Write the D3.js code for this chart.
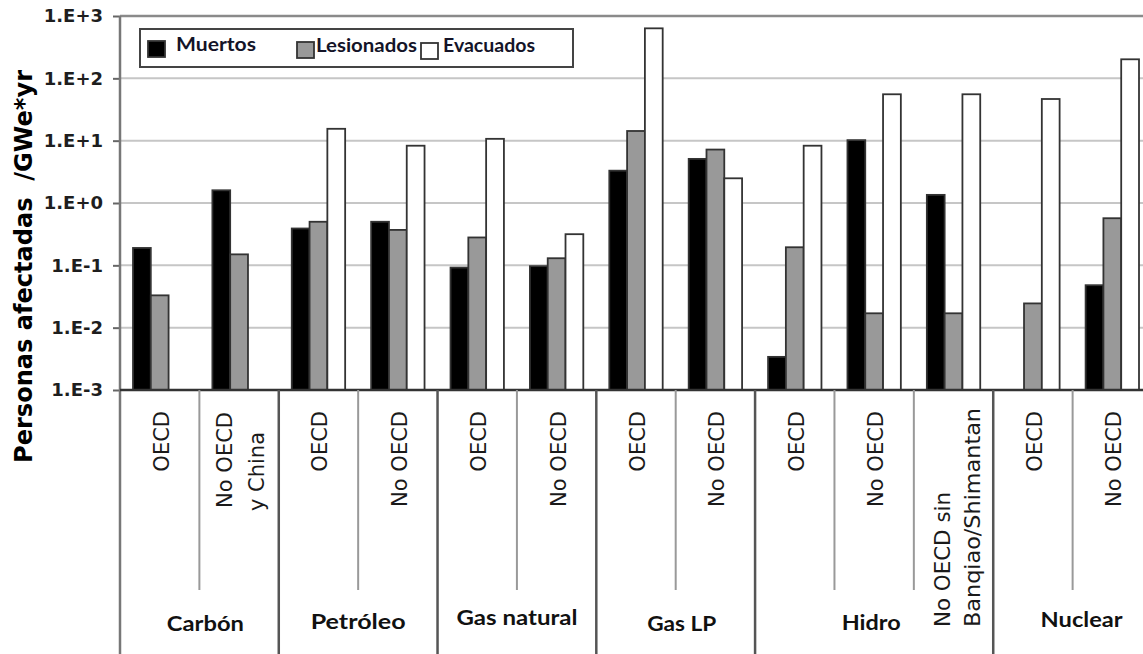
<!DOCTYPE html>
<html>
<head>
<meta charset="utf-8">
<script src="https://cdn.jsdelivr.net/npm/d3@7"></script>
<style>
  html, body { margin: 0; padding: 0; background: #fff; }
  svg { display: block; }
</style>
</head>
<body>
<svg id="chart" width="1143" height="654"></svg>
<script>
// ---------------- DATA ----------------
const subCategories = ["OECD", "No OECD|y China", "OECD", "No OECD", "OECD", "No OECD",
  "OECD", "No OECD", "OECD", "No OECD", "No OECD sin|Banqiao/Shimantan", "OECD", "No OECD"];
const groupNames = ["Carbón", "Petróleo", "Gas natural", "Gas LP", "Hidro", "Nuclear"];
const groupSizes = [2, 2, 2, 2, 3, 2];
const seriesNames = ["Muertos", "Lesionados", "Evacuados"];
const muertos    = [0.19, 1.6, 0.39, 0.50, 0.092, 0.097, 3.3, 5.1, 0.0034, 10.2, 1.35, null, 0.048];
const lesionados = [0.033, 0.15, 0.50, 0.37, 0.28, 0.13, 14.3, 7.2, 0.195, 0.017, 0.017, 0.0245, 0.57];
const evacuados  = [null, null, 15.5, 8.3, 10.7, 0.316, 634, 2.49, 8.3, 55.5, 55.5, 46.6, 202];
const tickValues = [1e-3, 1e-2, 1e-1, 1e0, 1e1, 1e2, 1e3];
const tickLabels = ["1.E-3", "1.E-2", "1.E-1", "1.E+0", "1.E+1", "1.E+2", "1.E+3"];
const yTitle = "Personas afectadas  /GWe*yr";

// ---------------- LAYOUT ----------------
const svg = d3.select("#chart");
const plotL = 120, plotR = 1152, plotT = 16, plotB = 390;
const fills = ["#000000", "#999999", "#ffffff"];
const seriesData = [muertos, lesionados, evacuados];

const x = d3.scaleBand().domain(d3.range(subCategories.length)).range([plotL, plotR]).padding(0);
const bw = x.bandwidth();
const xs = d3.scaleBand().domain(d3.range(3)).range([13, bw - 13]).padding(0);
const y = d3.scaleLog().domain([1e-3, 1e3]).range([plotB, plotT]);

// gridlines
svg.append("g").selectAll("line").data(tickValues.slice(0, -1)).join("line")
  .attr("x1", plotL).attr("x2", plotR)
  .attr("y1", d => y(d)).attr("y2", d => y(d))
  .attr("stroke", "#c6c6c6").attr("stroke-width", 2);
// top border
svg.append("line").attr("x1", plotL).attr("x2", plotR).attr("y1", y(1e3)).attr("y2", y(1e3))
  .attr("stroke", "#8a8a8a").attr("stroke-width", 2.5);

// y axis with ticks and labels
const yAxis = d3.axisLeft(y).tickValues(tickValues)
  .tickFormat((d, i) => tickLabels[i]).tickSize(7).tickPadding(10);
const gy = svg.append("g").attr("transform", `translate(${plotL},0)`).call(yAxis);
gy.select(".domain").remove();
gy.selectAll(".tick line").attr("stroke", "#666").attr("stroke-width", 2);
gy.selectAll(".tick text")
  .attr("font-family", "'DejaVu Sans', sans-serif").attr("font-weight", "bold")
  .attr("font-size", 18).attr("fill", "#1e1e1e");

// bars
seriesData.forEach((vals, si) => {
  svg.append("g").selectAll("rect")
    .data(vals.map((v, i) => ({ v, i })).filter(d => d.v != null))
    .join("rect")
    .attr("x", d => x(d.i) + xs(si))
    .attr("width", xs.bandwidth())
    .attr("y", d => y(d.v))
    .attr("height", d => plotB - y(d.v))
    .attr("fill", fills[si])
    .attr("stroke", "#333").attr("stroke-width", 1.8);
});

// left axis line and bottom axis line
svg.append("line").attr("x1", plotL).attr("x2", plotL).attr("y1", plotT).attr("y2", 654)
  .attr("stroke", "#777").attr("stroke-width", 2.5);
svg.append("line").attr("x1", plotL).attr("x2", plotR).attr("y1", plotB).attr("y2", plotB)
  .attr("stroke", "#333").attr("stroke-width", 2.5);

// separators under the axis
let acc = 0;
const majorIdx = new Set();
groupSizes.forEach(s => { acc += s; majorIdx.add(acc); });
svg.append("g").selectAll("line").data(d3.range(1, subCategories.length)).join("line")
  .attr("x1", i => x(i)).attr("x2", i => x(i))
  .attr("y1", plotB).attr("y2", i => majorIdx.has(i) ? 654 : 590)
  .attr("stroke", i => majorIdx.has(i) ? "#555" : "#999")
  .attr("stroke-width", i => majorIdx.has(i) ? 2.5 : 2);

// sub-category labels (rotated)
const subFont = "'DejaVu Sans', sans-serif";
function rotText(tx, ty, anchor, txt, len) {
  const t = svg.append("text").attr("transform", `translate(${tx},${ty}) rotate(-90)`)
    .attr("text-anchor", anchor).attr("font-family", subFont).attr("font-size", 21)
    .attr("fill", "#1a1a1a").text(txt);
  if (len) t.attr("textLength", len).attr("lengthAdjust", "spacingAndGlyphs");
}
subCategories.forEach((lab, i) => {
  const cx = x(i) + bw / 2;
  const lines = lab.split("|");
  if (lines.length === 1) {
    rotText(cx + 9, 411, "end", lines[0]);
  } else if (i < 5) {
    rotText(cx - 7, 412, "end", lines[0]);
    rotText(cx + 25, 432, "end", lines[1]);
  } else {
    rotText(cx - 4, 627, "start", lines[0], 135);
    rotText(cx + 26, 627, "start", lines[1], 219);
  }
});

// group labels
const groupWidths = [77, 95, 121, 69, 59, 82];
const groupBase = [631, 629, 625, 631, 630, 627];
let start = 0;
groupNames.forEach((g, gi) => {
  const x0 = x(start), x1 = x(start + groupSizes[gi] - 1) + bw;
  const cx = (x0 + x1) / 2 + (gi === 0 || gi === 3 ? 6 : 0) + (gi === 5 ? 9 : 0) + (gi === 4 ? -3 : 0);
  svg.append("text").attr("x", cx).attr("y", groupBase[gi])
    .attr("text-anchor", "middle").attr("font-family", "Lato, sans-serif")
    .attr("font-weight", "bold").attr("font-size", 20).attr("fill", "#111")
    .attr("textLength", groupWidths[gi]).attr("lengthAdjust", "spacingAndGlyphs")
    .text(g);
  start += groupSizes[gi];
});

// y axis title
svg.append("text").attr("transform", `translate(32,${(70 + 463) / 2}) rotate(-90)`)
  .attr("text-anchor", "middle").attr("font-family", "'DejaVu Sans', sans-serif")
  .attr("font-weight", "bold").attr("font-size", 24).attr("fill", "#000")
  .attr("textLength", 393).attr("lengthAdjust", "spacingAndGlyphs")
  .style("white-space", "pre")
  .text(yTitle);

// legend
const lg = svg.append("g");
lg.append("rect").attr("x", 140).attr("y", 29).attr("width", 433).attr("height", 38)
  .attr("fill", "#fff").attr("stroke", "#444").attr("stroke-width", 2);
const legSwatchX = [148, 297, 421];
const legTextX = [176, 316, 443];
const legTextW = [80, 101, 92];
seriesNames.forEach((s, i) => {
  lg.append("rect").attr("x", legSwatchX[i]).attr("y", 41 + i).attr("width", 17).attr("height", 16)
    .attr("fill", fills[i]).attr("stroke", "#333").attr("stroke-width", 1.8);
  lg.append("text").attr("x", legTextX[i]).attr("y", 51 + (i > 0 ? 1 : 0))
    .attr("font-family", "Lato, sans-serif").attr("font-weight", "bold")
    .attr("font-size", 18).attr("fill", "#141428")
    .attr("textLength", legTextW[i]).attr("lengthAdjust", "spacingAndGlyphs")
    .text(s);
});
</script>
</body>
</html>
